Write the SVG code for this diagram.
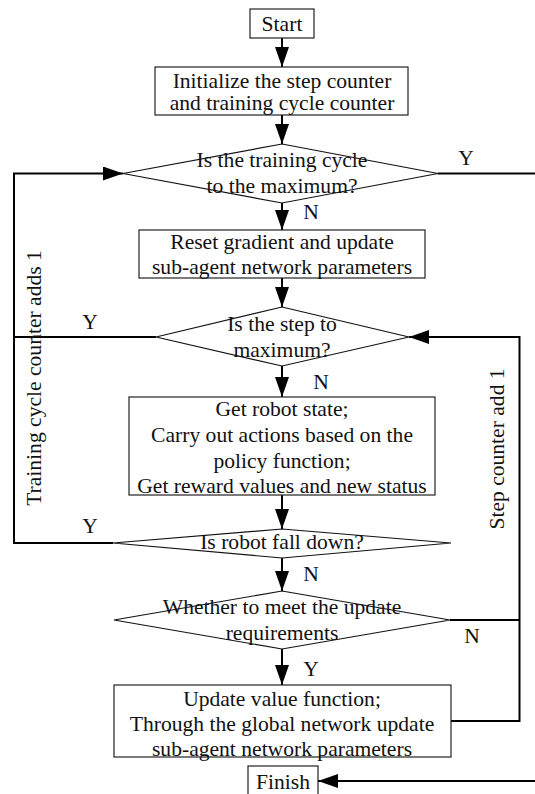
<svg xmlns="http://www.w3.org/2000/svg" width="535" height="794" viewBox="0 0 535 794">
<style>
.box{fill:#fff;stroke:#222;stroke-width:1.2}
.dia{fill:none;stroke:#111;stroke-width:1.2}
.t{font-family:"Liberation Serif","Times New Roman",serif;font-size:20px;fill:#111;text-anchor:middle}
.c{fill:none;stroke:#000;stroke-width:2}
</style>
<defs>
<marker id="ah" markerUnits="userSpaceOnUse" markerWidth="21" markerHeight="14" refX="20" refY="7" orient="auto">
<path d="M0,0 L20,7 L0,14 Z" fill="#000"/>
</marker>
</defs>
<rect width="535" height="794" fill="#fff"/>
<g id="connectors">
<line class="c" x1="282" y1="38" x2="282" y2="67" marker-end="url(#ah)"/>
<line class="c" x1="282" y1="115" x2="282" y2="144" marker-end="url(#ah)"/>
<line class="c" x1="282" y1="203" x2="282" y2="230" marker-end="url(#ah)"/>
<line class="c" x1="282" y1="278" x2="282" y2="307" marker-end="url(#ah)"/>
<line class="c" x1="282" y1="366" x2="282" y2="397" marker-end="url(#ah)"/>
<line class="c" x1="282" y1="495" x2="282" y2="529" marker-end="url(#ah)"/>
<line class="c" x1="282" y1="558" x2="282" y2="591" marker-end="url(#ah)"/>
<line class="c" x1="282" y1="649" x2="282" y2="685" marker-end="url(#ah)"/>
<polyline class="c" points="438,173.5 535,173.5"/>
<polyline class="c" points="113,543 14,543 14,173.5 123,173.5" marker-end="url(#ah)"/>
<polyline class="c" points="156,337 14,337"/>
<polyline class="c" points="451,721 519.5,721 519.5,337 409,337" marker-end="url(#ah)"/>
<polyline class="c" points="450,620 519.5,620"/>
<polyline class="c" points="535,781 318,781" marker-end="url(#ah)"/>
</g>
<g id="start">
<rect class="box" x="250" y="9" width="64" height="29"/>
<text class="t" transform="translate(282,31) scale(1.08,1)">Start</text>
</g>
<g id="init">
<rect class="box" x="155" y="67" width="253" height="48"/>
<text class="t" transform="translate(282,0) scale(1.08,1)"><tspan x="0" y="88">Initialize the step counter</tspan><tspan x="0" y="110.5">and training cycle counter</tspan></text>
</g>
<g id="d-cycle">
<polygon class="dia" points="282,144 438,173.5 282,203 123,173.5"/>
<text class="t" transform="translate(282,0) scale(1.08,1)"><tspan x="0" y="167">Is the training cycle</tspan><tspan x="0" y="193">to the maximum?</tspan></text>
</g>
<g id="reset">
<rect class="box" x="139" y="230" width="286" height="48"/>
<text class="t" transform="translate(282,0) scale(1.08,1)"><tspan x="0" y="249">Reset gradient and update</tspan><tspan x="0" y="274">sub-agent network parameters</tspan></text>
</g>
<g id="d-step">
<polygon class="dia" points="282,307 409,337 282,366 156,337"/>
<text class="t" transform="translate(282,0) scale(1.08,1)"><tspan x="0" y="331">Is the step to</tspan><tspan x="0" y="357">maximum?</tspan></text>
</g>
<g id="act">
<rect class="box" x="129" y="397" width="306" height="98"/>
<text class="t" transform="translate(282,0) scale(1.08,1)"><tspan x="0" y="416">Get robot state;</tspan><tspan x="0" y="442">Carry out actions based on the</tspan><tspan x="0" y="468">policy function;</tspan><tspan x="0" y="493.5">Get reward values and new status</tspan></text>
</g>
<g id="d-fall">
<polygon class="dia" points="282,529 451,543 282,558 113,543"/>
<text class="t" transform="translate(282,549) scale(1.08,1)">Is robot fall down?</text>
</g>
<g id="d-update">
<polygon class="dia" points="282,591 450,620 282,649 114,620"/>
<text class="t" transform="translate(282,0) scale(1.08,1)"><tspan x="0" y="614.5">Whether to meet the update</tspan><tspan x="0" y="640">requirements</tspan></text>
</g>
<g id="update">
<rect class="box" x="114" y="685" width="337" height="72"/>
<text class="t" transform="translate(282,0) scale(1.08,1)"><tspan x="0" y="706">Update value function;</tspan><tspan x="0" y="731">Through the global network update</tspan><tspan x="0" y="756">sub-agent network parameters</tspan></text>
</g>
<g id="finish">
<rect class="box" x="248" y="766" width="70" height="34"/>
<text class="t" transform="translate(283,789) scale(1.08,1)">Finish</text>
</g>
<g id="labels">
<text class="t" transform="translate(466,165) scale(1.08,1)">Y</text>
<text class="t" transform="translate(311,219) scale(1.08,1)">N</text>
<text class="t" transform="translate(90,329) scale(1.08,1)">Y</text>
<text class="t" transform="translate(321,389) scale(1.08,1)">N</text>
<text class="t" transform="translate(90,533) scale(1.08,1)">Y</text>
<text class="t" transform="translate(311,581) scale(1.08,1)">N</text>
<text class="t" transform="translate(472,643) scale(1.08,1)">N</text>
<text class="t" transform="translate(311,676) scale(1.08,1)">Y</text>
<text class="t" transform="translate(41,378) rotate(-90) scale(1.08,1)">Training cycle counter adds 1</text>
<text class="t" transform="translate(504,449) rotate(-90) scale(1.08,1)">Step counter add 1</text>
</g>
</svg>
